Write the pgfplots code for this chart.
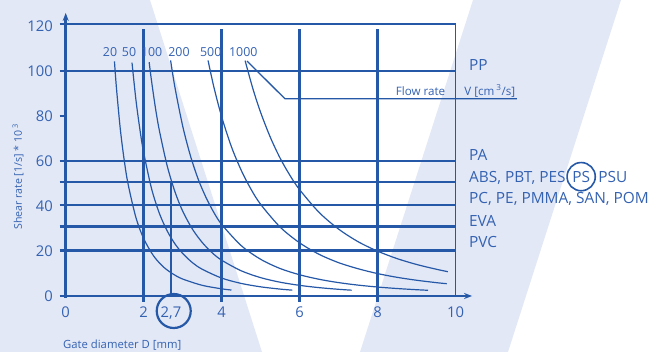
\documentclass[border=0pt]{standalone}
\usepackage{fontspec}
\setmainfont{Open Sans}
\usepackage{pgfplots}
\pgfplotsset{compat=1.18}
\usetikzlibrary{arrows.meta}
\definecolor{cblue}{RGB}{38,88,168}
\definecolor{tblue}{RGB}{52,98,178}
\definecolor{band}{RGB}{227,232,246}
\newcommand{\ticfont}{\fontsize{14.8}{18}\selectfont}
\newcommand{\matfont}{\fontsize{15.4}{18}\selectfont}
\newcommand{\curfont}{\fontsize{12.4}{15}\selectfont}
\newcommand{\flowfont}{\fontsize{11.6}{14}\selectfont}
\newcommand{\smallfont}{\fontsize{11.3}{14}\selectfont}
\newcommand{\yfont}{\fontsize{10.6}{13}\selectfont}
\tikzset{gridline/.style={cblue, line width=2.6pt},
  flowcurve/.style={cblue, line width=1.2pt, smooth, mark=none}}
\begin{document}
\begin{tikzpicture}[x=1pt,y=1pt]
\useasboundingbox (0,0) rectangle (671,352);
\fill[band] (0,352) -- (150,352) -- (262,0) -- (0,0) -- cycle;
\fill[band] (473,352) -- (621,352) -- (508,0) -- (360,0) -- cycle;
\begin{axis}[
  at={(65.7pt,56pt)}, anchor=south west,
  scale only axis, width=390pt, height=270pt,
  xmin=0, xmax=10, ymin=0, ymax=120,
  clip=false,
  axis line style={draw=none},
  tick pos=left,
  major tick length=0pt,
  xtick={0,2,2.7,4,6,8,10}, xticklabels={0,2,{2,7},4,6,8,10},
  ytick={0,20,40,60,80,100,120}, yticklabels={0,20,40,60,80,100,120},
  ticklabel style={font=\ticfont, text=tblue, inner sep=0pt},
  xticklabel style={anchor=north, yshift=-10.3pt},
  yticklabel style={anchor=east, xshift=-12.7pt},
  xlabel={Gate diameter D [mm]},
  ylabel={Shear rate [1/s] * 10\,\textsuperscript{3}},
  xlabel style={at={(rel axis cs:-0.007,-0.182)}, anchor=west, font=\smallfont, text=tblue, inner sep=0pt},
  ylabel style={at={(rel axis cs:-0.122,0.441)}, anchor=center, font=\yfont, text=tblue, inner sep=0pt},
]
% grid lines
\draw[cblue, line width=1.3pt] (axis cs:-0.154,120.9) -- (axis cs:10,120.9);
\draw[cblue, line width=1.3pt] (axis cs:10,0) -- (axis cs:10,120.9);
\draw[gridline] (axis cs:-0.154,100) -- (axis cs:10,100);
\draw[gridline] (axis cs:-0.154,60) -- (axis cs:10,60);
\draw[gridline] (axis cs:-0.154,50.6) -- (axis cs:10,50.6);
\draw[gridline] (axis cs:-0.154,40.4) -- (axis cs:10,40.4);
\draw[gridline] (axis cs:-0.154,30.9) -- (axis cs:10,30.9);
\draw[gridline] (axis cs:-0.154,20.1) -- (axis cs:10,20.1);
\draw[gridline] (axis cs:-0.154,80) -- (axis cs:0,80);
\draw[gridline] (axis cs:2,-2.5) -- (axis cs:2,118.7);
\draw[gridline] (axis cs:4,-2.5) -- (axis cs:4,118.7);
\draw[gridline] (axis cs:6,-2.5) -- (axis cs:6,118.7);
\draw[gridline] (axis cs:8,-2.5) -- (axis cs:8,118.7);
\draw[gridline] (axis cs:2.7,0) -- (axis cs:2.7,50.6);
% axes
\draw[gridline, -{Stealth[length=8pt,width=6pt]}] (axis cs:-0.154,0) -- (axis cs:10.42,0);
\draw[gridline, -{Stealth[length=8pt,width=6pt]}] (axis cs:0,-0.8) -- (axis cs:0,125.8);
% flow rate leader
\draw[cblue, line width=1.3pt] (axis cs:4.65,104.4) -- (axis cs:5.62,87.7) -- (axis cs:11.57,87.7);
\node[font=\flowfont, text=tblue, inner sep=0pt, anchor=base] at (axis cs:9.1,89.3) {Flow rate};
\node[font=\flowfont, text=tblue, inner sep=0pt, anchor=base west] at (axis cs:10.22,89.3) {V [cm\,\textsuperscript{3}/s]};
% circle round 2,7
\draw[cblue, line width=2.2pt] (axis cs:2.77,-6.67) circle (17pt);
% curve labels
\node[font=\curfont, text=tblue, inner sep=0pt] at (axis cs:1.136,108.6) {20};
\node[font=\curfont, text=tblue, inner sep=0pt] at (axis cs:1.623,108.6) {50};
\node[font=\curfont, text=tblue, inner sep=0pt] at (axis cs:2.205,108.6) {100};
\node[font=\curfont, text=tblue, inner sep=0pt] at (axis cs:2.905,108.6) {200};
\node[font=\curfont, text=tblue, inner sep=0pt] at (axis cs:3.718,108.6) {500};
\node[font=\curfont, text=tblue, inner sep=0pt] at (axis cs:4.554,108.6) {1000};
% material labels
\node[font=\matfont, text=tblue, inner sep=0pt, anchor=base west] at (axis cs:10.34,100.2) {PP};
\node[font=\matfont, text=tblue, inner sep=0pt, anchor=base west] at (axis cs:10.34,60.2) {PA};
\node[font=\matfont, text=tblue, inner sep=0pt, anchor=base west] (abs) at (axis cs:10.34,50.6) {ABS, PBT, PES};
\node[font=\matfont, text=tblue, draw=cblue, line width=1.6pt, circle, inner sep=2.6pt, anchor=west] (ps) at ([xshift=0.5pt,yshift=5.5pt]abs.base east) {PS};
\node[font=\matfont, text=tblue, inner sep=0pt, anchor=base west] at ([xshift=2pt]ps.east |- abs.base) {PSU};
\node[font=\matfont, text=tblue, inner sep=0pt, anchor=base west] at (axis cs:10.34,41.0) {PC, PE, PMMA, SAN, POM};
\node[font=\matfont, text=tblue, inner sep=0pt, anchor=base west] at (axis cs:10.34,31.0) {EVA};
\node[font=\matfont, text=tblue, inner sep=0pt, anchor=base west] at (axis cs:10.34,21.7) {PVC};
% curves: flow rate 20
\addplot[flowcurve] coordinates {(1.25,104.3) (1.3,92.7) (1.4,74.2) (1.5,60.4) (1.6,49.7) (1.8,34.9) (2.0,25.5) (2.25,17.9) (2.5,13.0) (2.75,9.79) (3.0,7.54) (3.5,4.75) (4.0,3.18) (4.25,2.65)};
% 50
\addplot[flowcurve] coordinates {(1.70,103.7) (1.8,87.3) (1.9,74.3) (2.0,63.7) (2.2,47.8) (2.4,36.8) (2.6,29.0) (2.8,23.2) (3.0,18.9) (3.25,14.8) (3.5,11.9) (4.0,7.96) (4.5,5.59) (5.0,4.07) (5.5,3.06) (5.81,2.60)};
% 100
\addplot[flowcurve] coordinates {(2.14,103.9) (2.2,95.7) (2.3,83.7) (2.4,73.7) (2.6,58.0) (2.8,46.4) (3.0,37.7) (3.25,29.7) (3.5,23.8) (3.75,19.3) (4.0,15.9) (4.5,11.2) (5.0,8.15) (5.5,6.12) (6.0,4.72) (6.5,3.71) (7.0,2.97) (7.33,2.59)};
% 200
\addplot[flowcurve] coordinates {(2.69,104.7) (2.8,92.8) (3.0,75.5) (3.2,62.2) (3.4,51.8) (3.6,43.7) (3.8,37.1) (4.0,31.8) (4.5,22.4) (5.0,16.3) (5.5,12.2) (6.0,9.43) (6.5,7.42) (7.0,5.94) (7.5,4.83) (8.0,3.98) (8.5,3.32) (9.0,2.79) (9.29,2.54)};
% 500
\addplot[flowcurve] coordinates {(3.65,104.7) (3.8,92.8) (4.0,79.6) (4.25,66.3) (4.5,55.9) (4.75,47.5) (5.0,40.7) (5.5,30.6) (6.0,23.6) (6.5,18.5) (7.0,14.8) (7.5,12.1) (8.0,9.95) (8.5,8.29) (9.0,6.99) (9.5,5.94) (9.77,5.46)};
% 1000
\addplot[flowcurve] coordinates {(4.60,104.6) (4.8,92.1) (5.0,81.5) (5.25,70.4) (5.5,61.2) (5.75,53.6) (6.0,47.2) (6.5,37.1) (7.0,29.7) (7.5,24.1) (8.0,19.9) (8.5,16.6) (9.0,14.0) (9.5,11.9) (9.8,10.8)};
\end{axis}
\end{tikzpicture}
\end{document}
